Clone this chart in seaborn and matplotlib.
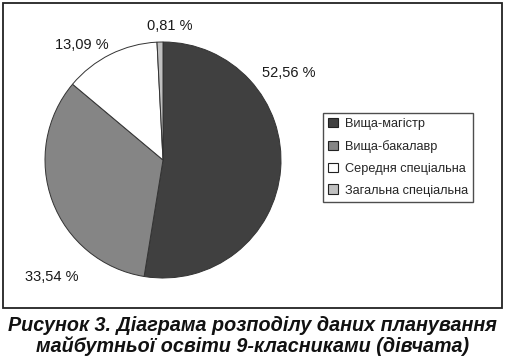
import matplotlib
matplotlib.use("Agg")
import matplotlib.pyplot as plt
import matplotlib.patches as mpatches
import seaborn as sns

categories = ["Вища-магістр", "Вища-бакалавр", "Середня спеціальна", "Загальна спеціальна"]
values = [52.56, 33.54, 13.09, 0.81]
value_labels = ["52,56 %", "33,54 %", "13,09 %", "0,81 %"]
colors = ["#404040", "#858585", "#ffffff", "#c0c0c0"]
caption = "Рисунок 3. Діаграма розподілу даних планування\nмайбутньої освіти 9-класниками (дівчата)"

sns.set_theme(style="white")
plt.rcParams['font.family'] = ['Liberation Sans', 'DejaVu Sans']

W, H = 505, 359
fig = plt.figure(figsize=(W / 100, H / 100), dpi=100)
fig.patch.set_facecolor("white")

# outer frame
fig.add_artist(mpatches.Rectangle((3 / W, 1 - 308 / H), 499 / W, 305 / H,
                                  transform=fig.transFigure, fill=False,
                                  edgecolor="#222222", linewidth=1.3))

cx, cy, r = 163, 160, 118
ax = fig.add_axes([(cx - r) / W, 1 - (cy + r) / H, 2 * r / W, 2 * r / H])
wedges, _ = ax.pie(values, colors=colors, startangle=90, counterclock=False,
                   wedgeprops=dict(edgecolor="#333333", linewidth=0.7))
ax.set_xlim(-1, 1)
ax.set_ylim(-1, 1)
ax.set_aspect("equal")
ax.axis("off")

label_pos = [(289, 73), (52, 277), (82, 45), (170, 26)]
for (px, py), t in zip(label_pos, value_labels):
    fig.text(px / W, 1 - py / H, t, ha="center", va="center", fontsize=10.5, color="#1a1a1a")

leg = fig.legend(wedges, categories, loc="upper left",
                 bbox_to_anchor=(323 / W, 1 - 113 / H), frameon=True,
                 fontsize=9.2, handlelength=0.75, handleheight=0.75, handletextpad=0.55,
                 labelspacing=0.76, borderpad=0.4, borderaxespad=0, fancybox=False)
leg.get_frame().set_edgecolor("#222222")
leg.get_frame().set_linewidth(1.0)
for h in leg.legend_handles:
    h.set_edgecolor("#222222")
    h.set_linewidth(0.8)

fig.text(0.5, 1 - 336 / H, caption, ha="center", va="center", fontsize=14.2,
         fontweight="bold", fontstyle="italic", color="#111111", linespacing=1.12)

fig.savefig("out.png", dpi=100)
